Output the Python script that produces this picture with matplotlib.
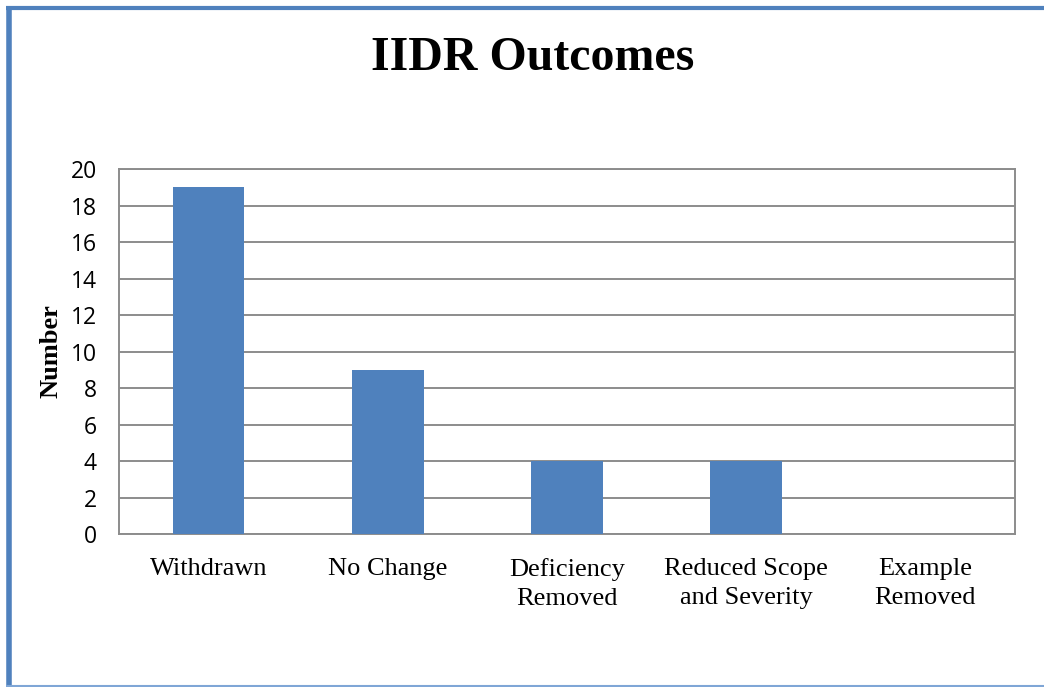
import matplotlib
matplotlib.use("Agg")
import matplotlib.pyplot as plt
from matplotlib.lines import Line2D

categories = ["Withdrawn", "No Change", "Deficiency\nRemoved", "Reduced Scope\nand Severity", "Example\nRemoved"]
values = [19, 9, 4, 4, 0]
yticks = list(range(0, 21, 2))

bar_color = "#4F81BD"
grid_color = "#8C8C8C"

fig = plt.figure(figsize=(10.44, 6.87), dpi=100)
ax = fig.add_axes([0.114, 0.2227, 0.858, 0.5313])

x = range(len(categories))
ax.bar(x, values, width=0.4, color=bar_color, zorder=3)
ax.set_xlim(-0.5, len(categories) - 0.5)
ax.set_ylim(0, 20)
ax.set_yticks(yticks)
ax.set_yticklabels([str(t) for t in yticks], fontfamily="Open Sans", fontsize=16.5)
ax.set_xticks(list(x))
ax.set_xticklabels(categories, fontfamily="Liberation Serif", fontsize=19, linespacing=1.45)
ax.tick_params(axis="both", length=0)
ax.tick_params(axis="x", pad=17)
ax.tick_params(axis="y", pad=16)
ax.yaxis.grid(True, color=grid_color, linewidth=1.4, zorder=0)
for s in ax.spines.values():
    s.set_color(grid_color)
    s.set_linewidth(1.4)

ax.set_ylabel("Number", fontfamily="Liberation Serif", fontweight="bold", fontsize=19, labelpad=6)

fig.text(0.51, 0.915, "IIDR Outcomes", ha="center", va="center",
         fontfamily="Liberation Serif", fontweight="bold", fontsize=34.5)

# frame around the chart
fig.add_artist(Line2D([8.5 / 1044, 8.5 / 1044], [0, 1 - 6 / 687], color=bar_color, linewidth=4,
                      solid_capstyle="butt", transform=fig.transFigure))
fig.add_artist(Line2D([6 / 1044, 1], [1 - 7.5 / 687, 1 - 7.5 / 687], color=bar_color, linewidth=3,
                      solid_capstyle="butt", transform=fig.transFigure))
fig.add_artist(Line2D([6 / 1044, 1], [1.2 / 687, 1.2 / 687], color="#7FA6D6", linewidth=1.5,
                      solid_capstyle="butt", transform=fig.transFigure))

fig.savefig("out.png", dpi=100)
